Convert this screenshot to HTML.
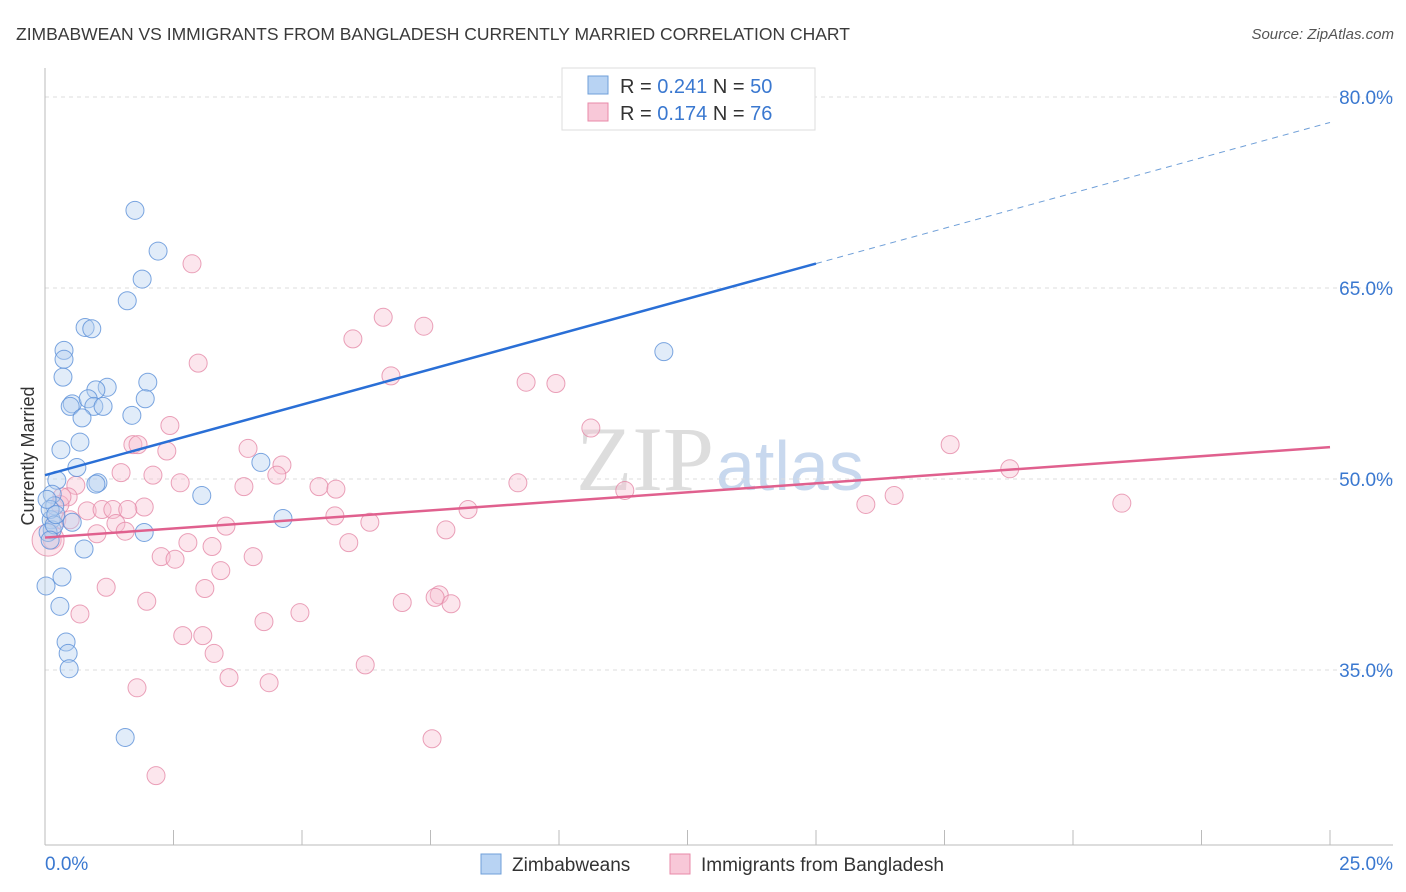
<!DOCTYPE html>
<html><head><meta charset="utf-8"><style>
body{margin:0;background:#fff;font-family:"Liberation Sans",sans-serif;}
</style></head><body>
<svg id="chart" width="1406" height="892" style="display:block">
<text x="16" y="40" font-size="17.5" fill="#3a3a3a">ZIMBABWEAN VS IMMIGRANTS FROM BANGLADESH CURRENTLY MARRIED CORRELATION CHART</text>
<text x="1394" y="39" font-size="15" fill="#555" text-anchor="end" font-style="italic">Source: ZipAtlas.com</text>
<text x="34" y="456" font-size="18" fill="#333" text-anchor="middle" transform="rotate(-90 34 456)">Currently Married</text>
<text x="714" y="490" font-size="92" fill="#ddd" text-anchor="end" font-family="Liberation Serif">ZIP</text>
<text x="716" y="490" font-size="70" fill="#c8d8ee">atlas</text>
<g id="grid"></g><g id="axes"></g><g id="marks"></g>
<g>
<rect x="562" y="68" width="253" height="62" fill="#fff" stroke="#ddd"/>
<rect x="588" y="76" width="20" height="18" fill="#b8d3f3" stroke="#6f9fd8"/>
<rect x="588" y="103" width="20" height="18" fill="#f8c8d8" stroke="#e88aa8"/>
<text x="620" y="93" font-size="20" fill="#333">R = <tspan fill="#3a78d0">0.241</tspan>   N = <tspan fill="#3a78d0">50</tspan></text>
<text x="620" y="120" font-size="20" fill="#333">R = <tspan fill="#3a78d0"> 0.174</tspan>   N = <tspan fill="#3a78d0"> 76</tspan></text>
</g>
<g>
<rect x="481" y="854" width="20" height="20" fill="#b8d3f3" stroke="#6f9fd8"/>
<text x="512" y="871" font-size="19" fill="#333">Zimbabweans</text>
<rect x="670" y="854" width="20" height="20" fill="#f8c8d8" stroke="#e88aa8"/>
<text x="701" y="871" font-size="19" fill="#333">Immigrants from Bangladesh</text>
</g>
</svg>
<script>
const yTicks=[80,65,50,35];
const xTickLabels=["0.0%","25.0%"];
const blueX=[1.75,2.20,1.89,1.60,0.78,0.91,0.37,0.37,0.35,2.00,1.21,0.99,0.53,0.49,0.84,0.95,1.13,1.95,1.69,0.72,0.68,0.31,0.62,0.23,1.03,0.99,0.14,0.19,0.12,0.53,0.14,0.06,0.76,1.93,3.05,4.20,4.63,12.04,0.33,0.02,0.29,0.41,0.45,0.47,1.56,0.10,0.18,0.04,0.10,0.21];
const blueY=[71.1,67.9,65.7,64.0,61.9,61.8,60.1,59.4,58.0,57.6,57.2,57.0,55.9,55.7,56.3,55.7,55.7,56.3,55.0,54.8,52.9,52.3,50.9,49.9,49.7,49.6,48.8,47.9,46.8,46.6,46.0,45.8,44.5,45.8,48.7,51.3,46.9,60.0,42.3,41.6,40.0,37.2,36.3,35.1,29.7,47.6,46.4,48.4,45.2,47.2];
const pinkX=[2.86,6.58,7.37,5.99,2.98,6.73,9.36,9.94,2.43,10.62,1.71,1.81,3.95,17.61,2.37,1.48,2.10,4.61,4.51,18.77,2.63,3.87,5.33,5.66,9.20,11.28,16.52,15.97,20.95,0.60,0.45,1.93,8.23,5.64,0.82,1.11,1.32,1.61,6.32,1.38,3.52,1.56,1.01,7.80,2.78,3.25,5.91,2.26,2.53,4.05,3.42,1.19,3.11,1.98,0.68,4.96,6.95,7.67,7.90,7.59,2.68,3.07,4.26,3.29,6.23,3.58,1.79,4.36,7.53,2.16,0.29,0.23,0.14,0.49,0.33,0.06];
const pinkY=[66.9,62.7,62.0,61.0,59.1,58.1,57.6,57.5,54.2,54.0,52.7,52.7,52.4,52.7,52.2,50.5,50.3,51.1,50.3,50.8,49.7,49.4,49.4,49.2,49.7,49.1,48.7,48.0,48.1,49.5,48.6,47.8,47.6,47.1,47.5,47.6,47.6,47.6,46.6,46.5,46.3,45.9,45.7,46.0,45.0,44.7,45.0,43.9,43.7,43.9,42.8,41.5,41.4,40.4,39.4,39.5,40.3,40.9,40.2,40.7,37.7,37.7,38.8,36.3,35.4,34.4,33.6,34.0,29.6,26.7,48.0,46.8,45.2,46.8,48.6,45.2];
const blueTrend=[50.3,78.0];
const pinkTrend=[45.4,52.5];
const NS="http://www.w3.org/2000/svg";
const X=v=>45+v*51.4, Y=v=>97+(80-v)*12.733;
function mk(p,t,a){const e=document.createElementNS(NS,t);for(const k in a)e.setAttribute(k,a[k]);document.getElementById(p).appendChild(e);return e;}
yTicks.forEach(t=>{
 const l=mk('grid','line',{x1:45,x2:1393,y1:Y(t),y2:Y(t),stroke:'#ddd','stroke-dasharray':'4,4'});
 
 
 const tx=mk('grid','text',{x:1393,y:Y(t)+7,'font-size':19,fill:'#3a78d0','text-anchor':'end'});tx.textContent=t.toFixed(1)+'%';
 
 
});
mk('axes','line',{x1:45,x2:45,y1:68,y2:845,stroke:'#bbb'});
mk('axes','line',{x1:45,x2:1393,y1:845,y2:845,stroke:'#bbb'});
for(let i=0;i<=10;i++){mk('axes','line',{x1:X(i*2.5),x2:X(i*2.5),y1:830,y2:845,stroke:'#bbb'});}
xTickLabels.forEach((s,i)=>{const t=mk('axes','text',{x:i?1393:45,y:870,'font-size':19,fill:'#3a78d0','text-anchor':i?'end':'start'});t.textContent=s;
 
 });
function dots(xs,ys,f,s,name){xs.forEach((x,i)=>{const c=mk('marks','circle',{cx:X(x),cy:Y(ys[i]),r:(name==='pink-point'&&i===xs.length-1)?16:9,fill:f,'fill-opacity':0.4,stroke:s,'stroke-opacity':0.8,'stroke-width':1});
 
 });}
dots(pinkX,pinkY,'#f8c0d2','#e58aa8','pink-point');
dots(blueX,blueY,'#b5cff0','#5b90d8','blue-point');
const bEnd=15, bMid=blueTrend[0]+(blueTrend[1]-blueTrend[0])*bEnd/25;
let l=mk('marks','line',{x1:X(0),y1:Y(blueTrend[0]),x2:X(bEnd),y2:Y(bMid),stroke:'#2a6fd6','stroke-width':2.5});


l=mk('marks','line',{x1:X(bEnd),y1:Y(bMid),x2:X(25),y2:Y(blueTrend[1]),stroke:'#6f9fd8','stroke-width':1,'stroke-dasharray':'6,5'});


l=mk('marks','line',{x1:X(0),y1:Y(pinkTrend[0]),x2:X(25),y2:Y(pinkTrend[1]),stroke:'#e0608e','stroke-width':2.5});


</script>
</body></html>
